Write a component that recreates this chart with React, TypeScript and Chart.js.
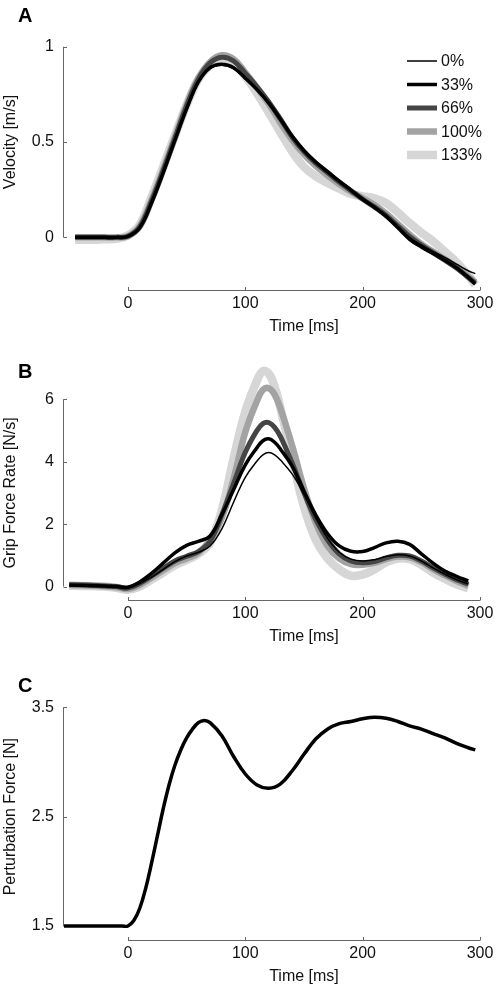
import React, { useEffect, useRef } from 'react';
import { Chart, registerables } from 'chart.js';

Chart.register(...registerables);

const FONT = '"Liberation Sans", Arial, Helvetica, sans-serif';
const SPINE_COLOR = '#666666';
const TEXT_COLOR = '#111111';

// ---------- Conditions ----------
const conditionLabels = ['0%', '33%', '66%', '100%', '133%'];
const conditionColors = ['#000000', '#000000', '#454545', '#a3a3a3', '#d6d6d6'];
const conditionWidths = [1.5, 3.5, 5, 6.5, 8.5];

// ---------- Ticks ----------
const timeTicks = [0, 100, 200, 300];
const timeTickLabels = ['0', '100', '200', '300'];
const velocityTicks = [0, 0.5, 1];
const velocityTickLabels = ['0', '0.5', '1'];
const gripTicks = [0, 2, 4, 6];
const gripTickLabels = ['0', '2', '4', '6'];
const forceTicks = [1.5, 2.5, 3.5];
const forceTickLabels = ['1.5', '2.5', '3.5'];

// ---------- Panel A: velocity [m/s] ----------
const timeA = [-45, -40, -30, -20, -10, 0, 10, 20, 30, 40, 50, 60, 70, 80, 90, 100, 110, 120, 130, 140, 150, 160, 170, 180, 190, 200, 210, 220, 230, 240, 250, 260, 270, 280, 290, 296];
const velocity0 = [0, 0, 0, 0, 0, 0.005, 0.05, 0.18, 0.34, 0.51, 0.67, 0.81, 0.885, 0.903, 0.885, 0.83, 0.77, 0.7, 0.615, 0.525, 0.45, 0.39, 0.34, 0.295, 0.25, 0.2, 0.16, 0.115, 0.06, 0.0, -0.04, -0.075, -0.105, -0.14, -0.175, -0.19];
const velocity33 = [0, 0, 0, 0, 0, 0.005, 0.05, 0.18, 0.34, 0.51, 0.675, 0.815, 0.89, 0.908, 0.89, 0.835, 0.775, 0.705, 0.62, 0.53, 0.455, 0.395, 0.345, 0.295, 0.248, 0.2, 0.158, 0.11, 0.05, -0.01, -0.05, -0.085, -0.12, -0.16, -0.21, -0.245];
const velocity66 = [0, 0, 0, 0, 0, 0.006, 0.055, 0.19, 0.35, 0.52, 0.69, 0.83, 0.915, 0.945, 0.925, 0.86, 0.79, 0.71, 0.62, 0.525, 0.45, 0.39, 0.34, 0.29, 0.245, 0.2, 0.16, 0.115, 0.06, 0.005, -0.04, -0.08, -0.12, -0.16, -0.21, -0.24];
const velocity100 = [0, 0, 0, 0, 0, 0.006, 0.058, 0.195, 0.355, 0.525, 0.695, 0.835, 0.92, 0.955, 0.935, 0.865, 0.785, 0.7, 0.6, 0.51, 0.435, 0.375, 0.325, 0.28, 0.24, 0.205, 0.17, 0.125, 0.07, 0.015, -0.035, -0.075, -0.115, -0.155, -0.205, -0.235];
const velocity133 = [-0.012, -0.012, -0.012, -0.01, -0.008, 0.01, 0.065, 0.21, 0.37, 0.535, 0.695, 0.83, 0.905, 0.94, 0.915, 0.845, 0.755, 0.655, 0.55, 0.45, 0.37, 0.32, 0.285, 0.255, 0.228, 0.215, 0.205, 0.18, 0.13, 0.075, 0.025, -0.02, -0.075, -0.13, -0.2, -0.25];

// ---------- Panel B: grip force rate [N/s] ----------
const timeB = [-50, -40, -30, -20, -10, 0, 10, 20, 30, 40, 50, 60, 70, 80, 90, 100, 110, 115, 120, 125, 130, 140, 150, 160, 170, 180, 190, 200, 210, 220, 230, 240, 250, 260, 270, 280, 290];
const gripRate0 = [0.05, 0.04, 0.03, 0.02, 0.0, -0.03, 0.1, 0.3, 0.55, 0.8, 0.98, 1.1, 1.3, 1.85, 2.7, 3.5, 4.02, 4.22, 4.29, 4.22, 4.05, 3.6, 2.95, 2.2, 1.55, 1.1, 0.88, 0.82, 0.86, 0.96, 1.02, 0.98, 0.82, 0.6, 0.4, 0.22, 0.08];
const gripRate33 = [0.05, 0.04, 0.03, 0.02, 0.0, -0.02, 0.15, 0.42, 0.75, 1.08, 1.32, 1.45, 1.62, 2.3, 3.1, 3.9, 4.45, 4.67, 4.73, 4.62, 4.4, 3.85, 3.05, 2.3, 1.7, 1.3, 1.13, 1.12, 1.25, 1.4, 1.45, 1.35, 1.05, 0.75, 0.5, 0.33, 0.18];
const gripRate66 = [0.06, 0.05, 0.04, 0.02, 0.0, -0.05, 0.1, 0.33, 0.58, 0.82, 0.97, 1.12, 1.45, 2.3, 3.3, 4.3, 5.0, 5.22, 5.25, 5.1, 4.8, 3.95, 3.0, 2.15, 1.5, 1.05, 0.82, 0.76, 0.8, 0.92, 1.0, 0.98, 0.82, 0.6, 0.4, 0.22, 0.08];
const gripRate100 = [0.05, 0.04, 0.03, 0.01, -0.02, -0.08, 0.05, 0.28, 0.52, 0.75, 0.9, 1.08, 1.5, 2.2, 3.45, 4.95, 5.95, 6.3, 6.35, 6.15, 5.7, 4.5, 3.15, 2.05, 1.3, 0.9, 0.72, 0.7, 0.76, 0.88, 0.96, 0.94, 0.78, 0.56, 0.36, 0.18, 0.03];
const gripRate133 = [0.03, 0.02, 0.01, 0.0, -0.04, -0.1, 0.0, 0.22, 0.45, 0.68, 0.85, 1.05, 1.4, 2.45, 4.1, 5.6, 6.6, 6.9, 6.82, 6.4, 5.7, 4.1, 2.55, 1.5, 0.9, 0.55, 0.35, 0.38, 0.55, 0.78, 0.9, 0.88, 0.7, 0.45, 0.25, 0.07, -0.05];

// ---------- Panel C: perturbation force [N] ----------
const timeC = [-55, -40, -20, -5, 0, 5, 10, 15, 20, 25, 30, 35, 40, 45, 50, 55, 60, 65, 70, 80, 90, 100, 110, 120, 130, 140, 150, 160, 170, 180, 190, 200, 210, 220, 230, 240, 250, 260, 270, 280, 290, 296];
const perturbationForce = [1.5, 1.5, 1.5, 1.5, 1.5, 1.55, 1.66, 1.84, 2.07, 2.32, 2.57, 2.79, 2.97, 3.11, 3.22, 3.3, 3.36, 3.38, 3.36, 3.24, 3.05, 2.89, 2.79, 2.76, 2.8, 2.92, 3.07, 3.21, 3.3, 3.35, 3.37, 3.395, 3.41, 3.4, 3.37, 3.33, 3.3, 3.26, 3.22, 3.17, 3.13, 3.11];

interface Series { label: string; color: string; width: number; time: number[]; values: number[]; }
interface PanelSpec {
  letter: string;
  letterBaseline: number;
  canvasHeight: number;
  padTop: number;
  xAxisHeight: number;
  yMin: number;
  yMax: number;
  yTicks: number[];
  yTickLabels: string[];
  yTitle: string;
  series: Series[];
  legend: boolean;
}

const velocitySeries = [velocity0, velocity33, velocity66, velocity100, velocity133];
const gripSeries = [gripRate0, gripRate33, gripRate66, gripRate100, gripRate133];

const panelA: PanelSpec = {
  letter: 'A', letterBaseline: 22, canvasHeight: 340, padTop: 46.7, xAxisHeight: 50,
  yMin: -0.276, yMax: 1.0, yTicks: velocityTicks, yTickLabels: velocityTickLabels,
  yTitle: 'Velocity [m/s]', legend: true,
  series: conditionLabels.map((l, i) => ({ label: l, color: conditionColors[i], width: conditionWidths[i], time: timeA, values: velocitySeries[i] })),
};
const panelB: PanelSpec = {
  letter: 'B', letterBaseline: 38, canvasHeight: 320, padTop: 18.6, xAxisHeight: 60,
  yMin: -0.43, yMax: 7.3, yTicks: gripTicks, yTickLabels: gripTickLabels,
  yTitle: 'Grip Force Rate [N/s]', legend: false,
  series: conditionLabels.map((l, i) => ({ label: l, color: conditionColors[i], width: conditionWidths[i], time: timeB, values: gripSeries[i] })),
};
const panelC: PanelSpec = {
  letter: 'C', letterBaseline: 32, canvasHeight: 326, padTop: 47.3, xAxisHeight: 46,
  yMin: 1.372, yMax: 3.5, yTicks: forceTicks, yTickLabels: forceTickLabels,
  yTitle: 'Perturbation Force [N]', legend: false,
  series: [{ label: 'Perturbation', color: '#000000', width: 3.5, time: timeC, values: perturbationForce }],
};

function makeDecor(spec: PanelSpec) {
  return {
    id: 'decor',
    beforeDatasetsDraw(chart: any) {
      const { ctx, chartArea } = chart;
      const xs = chart.scales.x;
      const ys = chart.scales.y;
      ctx.save();
      ctx.strokeStyle = SPINE_COLOR;
      ctx.lineWidth = 1;
      ctx.beginPath();
      const sx = Math.round(chartArea.left) - 0.5;
      const yTop = ys.getPixelForValue(spec.yTicks[spec.yTicks.length - 1]);
      const yBot = ys.getPixelForValue(spec.yTicks[0]);
      ctx.moveTo(sx, yTop);
      ctx.lineTo(sx, yBot);
      spec.yTicks.forEach((v) => {
        const p = Math.round(ys.getPixelForValue(v)) + 0.5;
        ctx.moveTo(sx, p);
        ctx.lineTo(sx + 3.5, p);
      });
      const sy = Math.round(chartArea.bottom) + 0.5;
      const xL = xs.getPixelForValue(timeTicks[0]);
      const xR = xs.getPixelForValue(timeTicks[timeTicks.length - 1]);
      ctx.moveTo(xL, sy);
      ctx.lineTo(xR, sy);
      timeTicks.forEach((v) => {
        const p = Math.round(xs.getPixelForValue(v)) + 0.5;
        ctx.moveTo(p, sy);
        ctx.lineTo(p, sy - 3.5);
      });
      ctx.stroke();
      ctx.restore();
    },
    afterDraw(chart: any) {
      const { ctx, chartArea } = chart;
      const xs = chart.scales.x;
      const ys = chart.scales.y;
      ctx.save();
      // panel letter
      ctx.fillStyle = '#000';
      ctx.font = `bold 20px ${FONT}`;
      ctx.textAlign = 'left';
      ctx.textBaseline = 'alphabetic';
      ctx.fillText(spec.letter, 18, spec.letterBaseline);
      // x title
      ctx.fillStyle = TEXT_COLOR;
      ctx.font = `16px ${FONT}`;
      ctx.textAlign = 'center';
      ctx.textBaseline = 'middle';
      const xc = (xs.getPixelForValue(timeTicks[0]) + xs.getPixelForValue(timeTicks[timeTicks.length - 1])) / 2;
      ctx.fillText('Time [ms]', xc, chartArea.bottom + 37);
      // y title
      const yc = (ys.getPixelForValue(spec.yTicks[0]) + ys.getPixelForValue(spec.yTicks[spec.yTicks.length - 1])) / 2;
      ctx.save();
      ctx.translate(15, yc);
      ctx.rotate(-Math.PI / 2);
      ctx.textAlign = 'center';
      ctx.textBaseline = 'alphabetic';
      ctx.fillText(spec.yTitle, 0, 0);
      ctx.restore();
      // legend
      if (spec.legend) {
        const rows = [61, 84.5, 108, 131.5, 155];
        spec.series.forEach((s, i) => {
          const y = rows[i];
          ctx.strokeStyle = s.color;
          ctx.lineWidth = s.width;
          ctx.beginPath();
          ctx.moveTo(407, y);
          ctx.lineTo(437, y);
          ctx.stroke();
          ctx.fillStyle = TEXT_COLOR;
          ctx.font = `16px ${FONT}`;
          ctx.textAlign = 'left';
          ctx.textBaseline = 'middle';
          ctx.fillText(s.label, 441, y + 1);
        });
      }
      ctx.restore();
    },
  };
}

function Panel({ spec }: { spec: PanelSpec }) {
  const ref = useRef<HTMLCanvasElement | null>(null);
  useEffect(() => {
    if (!ref.current) return;
    const chart = new Chart(ref.current, {
      type: 'line',
      data: {
        datasets: spec.series.map((s) => ({
          label: s.label,
          data: s.time.map((t, i) => ({ x: t, y: s.values[i] })),
          borderColor: s.color,
          backgroundColor: s.color,
          borderWidth: s.width,
          pointRadius: 0,
          pointHoverRadius: 0,
          tension: 0.4,
          fill: false,
          borderJoinStyle: 'round' as const,
        })),
      },
      options: {
        animation: false,
        responsive: false,
        devicePixelRatio: 1,
        layout: { padding: { top: spec.padTop, left: 0, right: 16, bottom: 0 } },
        plugins: { legend: { display: false }, tooltip: { enabled: false } },
        scales: {
          x: {
            type: 'linear',
            min: -54.5,
            max: 300,
            grid: { display: false, drawTicks: false },
            border: { display: false },
            afterBuildTicks: (scale: any) => { scale.ticks = timeTicks.map((v) => ({ value: v })); },
            afterFit: (scale: any) => { scale.height = spec.xAxisHeight; scale.paddingLeft = 0; scale.paddingRight = 0; },
            ticks: {
              autoSkip: false,
              maxRotation: 0,
              padding: 4,
              color: TEXT_COLOR,
              font: { family: FONT, size: 16 },
              callback: (_v: any, i: number) => timeTickLabels[i],
            },
          },
          y: {
            type: 'linear',
            min: spec.yMin,
            max: spec.yMax,
            grid: { display: false, drawTicks: false },
            border: { display: false },
            afterBuildTicks: (scale: any) => { scale.ticks = spec.yTicks.map((v) => ({ value: v })); },
            afterFit: (scale: any) => { scale.width = 64; scale.paddingTop = 0; scale.paddingBottom = 0; },
            ticks: {
              autoSkip: false,
              padding: 10,
              color: TEXT_COLOR,
              font: { family: FONT, size: 16 },
              callback: (_v: any, i: number) => spec.yTickLabels[i],
            },
          },
        },
      },
      plugins: [makeDecor(spec)],
    } as any);
    return () => chart.destroy();
  }, [spec]);
  return <canvas ref={ref} width={496} height={spec.canvasHeight} style={{ display: 'block', width: 496, height: spec.canvasHeight }} />;
}

export default function App() {
  useEffect(() => {
    document.body.style.margin = '0';
  }, []);
  return (
    <div style={{ width: 496, background: '#ffffff' }}>
      <Panel spec={panelA} />
      <Panel spec={panelB} />
      <Panel spec={panelC} />
    </div>
  );
}
